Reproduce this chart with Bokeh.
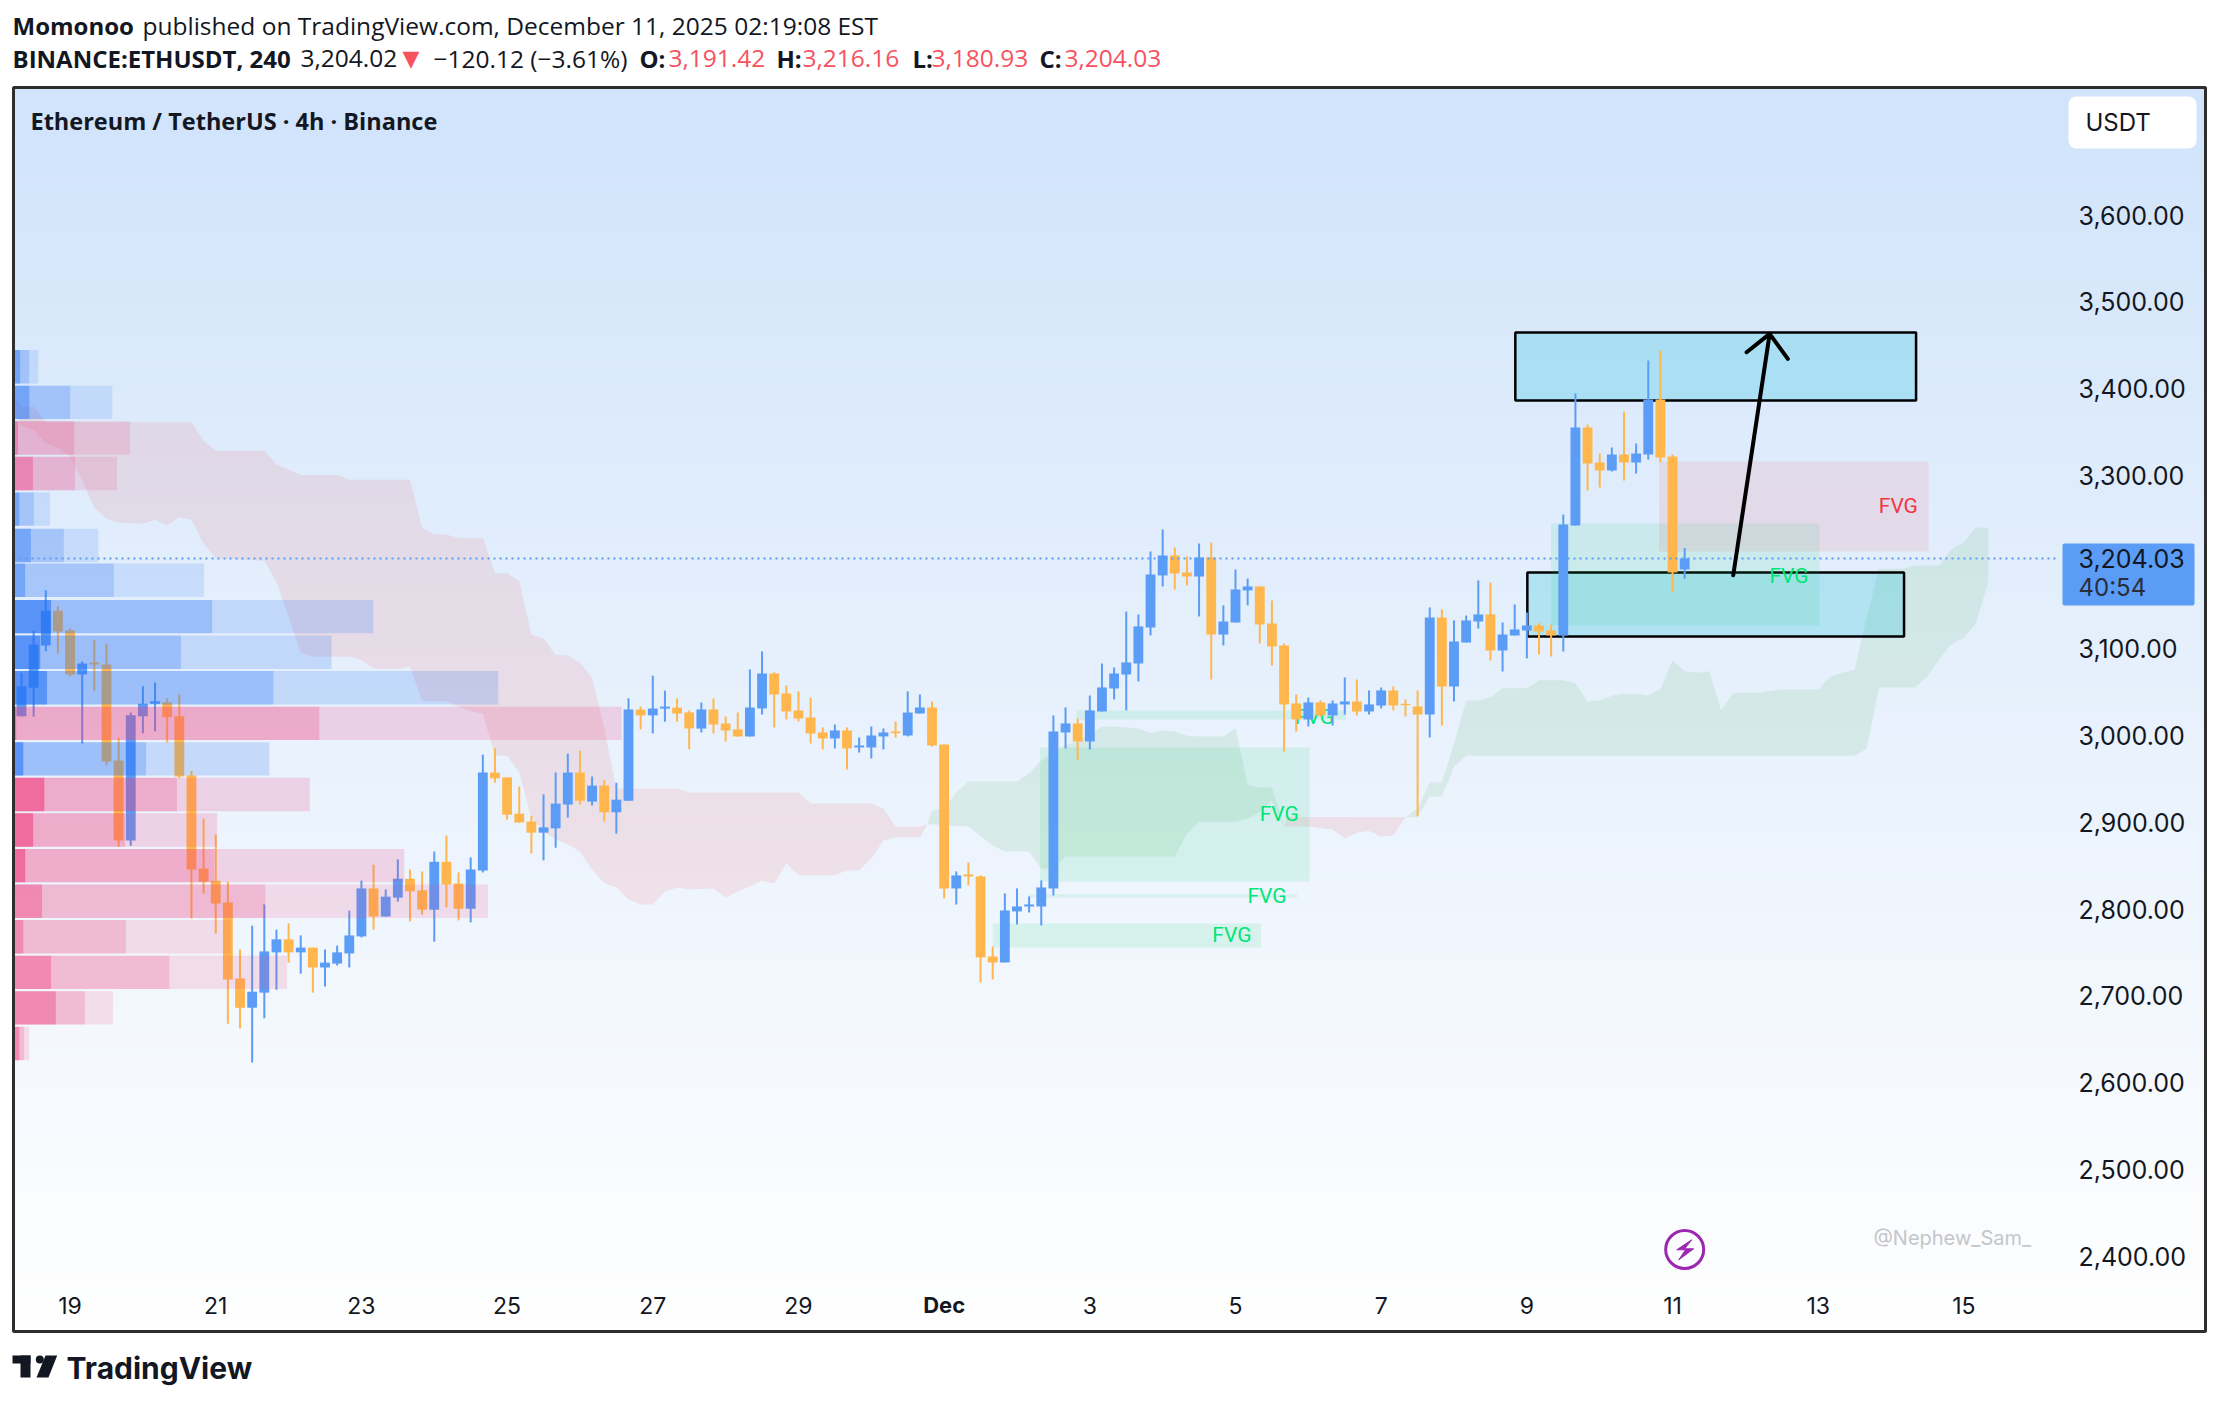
#ETHUSDT 4h chart, redrawn from a TradingView snapshot
from bokeh.plotting import figure
from bokeh.core.properties import value
from bokeh.models import LinearAxis, FixedTicker, NumeralTickFormatter, Label, ColumnDataSource
from bokeh.embed import file_html
from bokeh.resources import INLINE
import numpy as np

#4h candles, one per bar
opens = [3022.1,3055.1,3103.7,3143.9,3121.0,3070.2,3084.1,3081.9,2971.2,2879.0,
3022.1,3036.6,3038.3,3022.1,2953.9,2846.6,2832.7,2807.5,2719.8,2686.3,
2703.6,2750.0,2765.0,2750.0,2755.5,2732.6,2737.1,2748.8,2768.4,2823.7,
2791.3,2813.1,2834.9,2821.5,2799.2,2854.4,2829.3,2800.3,2844.4,2957.3,
2951.7,2909.8,2900.8,2888.0,2893.0,2920.4,2957.3,2923.8,2942.2,2911.5,
2924.9,3029.9,3023.2,3031.0,3032.1,3026.6,3008.0,3030.0,3013.9,3007.0,
2998.9,3031.2,3071.5,3048.5,3028.9,3020.8,3003.5,2996.6,3005.8,2986.2,
2986.2,2998.9,3004.6,3000.0,3025.4,3032.3,2989.7,2823.7,2839.8,2837.5,
2745.3,2738.4,2797.2,2802.9,2802.9,2823.7,3003.5,3013.9,2993.1,3027.7,
3054.2,3070.3,3083.0,3124.5,3184.5,3207.5,3187.9,3183.3,3205.2,3116.4,
3130.3,3167.2,3171.8,3129.1,3103.8,3036.9,3018.5,3038.1,3023.1,3035.8,
3039.2,3027.7,3034.6,3051.9,3036.5,3033.5,3024.2,3136.0,3056.5,3107.2,
3131.4,3139.5,3098.0,3115.3,3121.0,3126.8,3121.0,3115.3,3242.0,3355.0,
3314.7,3305.5,3323.9,3314.7,3323.9,3387.3,3321.6,3191.42]
highs = [3072.4,3121.0,3167.4,3149.0,3123.2,3085.2,3110.4,3105.9,2997.5,3026.6,
3056.7,3061.2,3042.8,3047.2,2959.0,2904.2,2885.8,2831.5,2753.3,2780.7,
2805.3,2776.2,2783.5,2769.5,2755.5,2753.3,2757.8,2798.0,2832.7,2851.1,
2822.6,2857.2,2845.5,2843.3,2866.2,2884.6,2842.2,2859.5,2977.9,2985.2,
2951.7,2941.1,2907.5,2932.1,2957.3,2979.0,2982.4,2952.8,2948.3,2945.5,
3042.8,3033.3,3069.0,3051.7,3042.8,3028.8,3038.0,3042.7,3021.9,3026.5,
3076.1,3096.9,3072.7,3057.7,3050.8,3043.8,3009.3,3012.7,3009.3,2997.7,
3010.4,3008.1,3016.2,3050.8,3047.3,3039.2,2989.7,2843.3,2853.7,2838.7,
2756.8,2818.0,2823.7,2814.5,2832.9,3023.1,3032.3,3019.6,3046.1,3083.0,
3078.4,3142.9,3139.5,3212.1,3237.5,3216.7,3206.4,3221.3,3222.5,3149.9,
3191.4,3181.0,3171.8,3155.6,3106.1,3047.3,3043.8,3040.4,3040.4,3066.9,
3064.6,3051.9,3055.4,3056.5,3041.5,3051.9,3147.6,3145.3,3132.6,3138.3,
3178.7,3176.4,3130.3,3151.0,3141.8,3129.5,3128.0,3254.7,3394.2,3358.5,
3325.0,3332.0,3373.5,3336.6,3432.2,3443.8,3323.9,3216.16]
lows = [3022.0,3021.5,3097.0,3094.7,3067.9,2990.8,3051.7,2965.6,2871.8,2872.9,
3002.5,3004.8,2991.9,2950.6,2789.1,2817.6,2771.7,2667.8,2662.2,2623.1,
2674.0,2706.9,2738.2,2725.4,2703.6,2710.8,2734.9,2732.6,2767.3,2776.2,
2791.3,2808.6,2785.7,2793.5,2762.3,2801.9,2786.8,2784.6,2842.2,2945.5,
2903.1,2899.7,2864.0,2856.1,2870.7,2905.3,2920.4,2919.3,2900.8,2886.9,
2924.9,3007.0,3002.5,3015.9,3015.9,2984.1,3003.5,3002.3,2993.1,2998.9,
2998.9,3024.2,3009.3,3018.5,3016.2,2990.8,2983.9,2985.1,2960.8,2980.4,
2973.5,2983.9,2997.7,2998.9,3025.4,2987.4,2812.2,2805.2,2827.2,2715.3,
2718.8,2738.4,2782.2,2796.0,2781.0,2815.6,2985.1,2971.2,2983.9,3027.7,
3041.5,3028.9,3062.3,3115.3,3171.8,3168.3,3172.9,3137.2,3064.6,3103.8,
3130.3,3149.9,3106.1,3080.7,2981.6,3004.6,3010.4,3021.9,3011.6,3024.2,
3023.1,3024.2,3031.2,3028.9,3021.9,2907.0,2997.7,3011.5,3039.2,3107.2,
3123.3,3086.5,3073.8,3115.3,3088.8,3093.4,3091.1,3096.8,3242.0,3282.4,
3285.9,3304.3,3293.9,3302.0,3318.1,3314.7,3164.9,3180.93]
closes = [3056.7,3104.8,3143.9,3119.9,3070.2,3083.0,3081.9,2970.1,2879.0,3023.2,
3036.6,3039.4,3021.0,2952.8,2845.5,2831.5,2806.4,2718.7,2686.3,2704.7,
2751.1,2765.0,2750.0,2755.5,2732.6,2738.2,2750.0,2769.5,2823.7,2791.3,
2814.2,2834.9,2820.4,2799.2,2854.4,2828.2,2800.3,2845.5,2957.3,2950.6,
2908.7,2899.7,2888.0,2894.1,2921.5,2957.3,2924.9,2942.2,2911.5,2926.0,
3029.9,3023.2,3031.0,3033.3,3025.4,3008.1,3030.0,3012.7,3005.8,2998.9,
3032.3,3071.5,3047.3,3027.7,3019.6,3002.3,2996.6,3005.8,2985.1,2988.5,
3000.0,3003.5,3002.7,3026.5,3032.3,2988.5,2823.7,2838.7,2837.5,2744.2,
2738.4,2798.3,2802.9,2805.2,2824.8,3004.6,3013.9,2993.1,3028.9,3055.4,
3071.5,3084.2,3125.7,3185.6,3207.5,3186.8,3183.3,3205.2,3116.4,3131.4,
3168.3,3171.8,3128.0,3102.6,3035.8,3018.5,3038.1,3023.1,3036.9,3039.2,
3027.7,3035.8,3051.9,3034.6,3035.0,3024.2,3136.0,3056.5,3108.4,3132.6,
3139.5,3098.0,3116.4,3122.2,3126.8,3119.9,3115.3,3243.2,3355.0,3313.5,
3305.5,3323.9,3314.7,3325.0,3387.3,3320.4,3187.9,3204.03]

last_price = 3204.03

#axis labels, 3,200 is hidden behind the price tag
price_ticks = [2400,2500,2600,2700,2800,2900,3000,3100,3300,3400,3500,3600]
date_labels = ["19","21","23","25","27","29","Dec","3","5","7","9","11","13","15"]

#visible range profile, price of each row and the three stacked volumes
vp_price = [3425,3384,3343,3302,3261,3219,3179,3137,3096,3055,3014,2973,2932,2891,2850,2809,2768,2727,2686,2645]
vp_top = [0.55,1.3,0.37,1.6,0.48,1.43,0.96,3.09,2.2,2.76,0.22,0.81,2.54,1.62,0.96,2.35,0.81,3.09,3.49,0.48]
vp_mid = [1.29,4.67,5.0,5.07,1.69,4.15,8.27,16.36,13.79,21.4,25.19,10.92,13.46,9.19,16.54,20.74,9.26,12.84,5.88,0.88]
vp_all = [2.03,8.13,9.6,8.53,3.01,6.99,15.7,29.63,26.2,39.93,50.1,21.07,24.41,16.77,32.18,39.08,17.87,22.54,8.2,1.29]
vp_blue = [1,1,0,0,1,1,1,1,1,1,0,1,0,0,0,0,0,0,0,0]

#cloud outlines, bar number and price
red1_up_x = [-0.66,0,1,2,14,15,16,20,21,23,26,27,32,33,34,35,36,38,39,40,41,42,43,44,45,46,47,48,49,54,55,64,65,70,71,72,74,74.6]
red1_up_y = [3392,3379.3,3379.3,3361.2,3361.2,3339.5,3328.3,3328.3,3312.7,3300.4,3300.4,3294.8,3294.8,3239.5,3231.7,3231.7,3227.7,3227.7,3186.9,3186.9,3178,3116,3112,3092.5,3092.5,3084.1,3066.2,3008.7,2938.9,2938.9,2934.3,2934.3,2921.7,2921.7,2915.9,2895.2,2895.2,2898]
red1_lo_x = [-0.66,0,1,2,3,4,5,6,7,8,10,11,12,13,14,15,16,20,21,22,23,24,27,28,29,31,32,33,35,36,37,38,39,40,41,42,43,44,45,46,47,48,49,50,51,52,53,54,55,57,58,59,60,61,62,63,64,67,68,69,70,71,72,74,74.6]
red1_lo_y = [3377,3356.2,3352.4,3337,3331.6,3321.6,3293.9,3262.5,3249.8,3245.5,3244,3248.6,3242,3251.7,3248.6,3221,3204.3,3201.5,3177.4,3137.2,3095.3,3090.8,3090.8,3086.9,3076.9,3076.9,3079.6,3039.4,3039.4,3033.3,3027.7,3025.4,2976.8,2976.8,2957.3,2905.3,2889.1,2880.2,2874.6,2866.2,2845.5,2829.9,2824.8,2811,2805.2,2805.2,2820.2,2824.8,2822.5,2823.7,2813.3,2820.2,2826,2832.9,2829.4,2852.5,2839,2839,2844.8,2844.8,2858.3,2879,2882.5,2882.5,2898]
red2_up_x = [104,104.3,114]
red2_up_y = [2895.2,2906,2905.8]
red2_lo_x = [104,106,108,109,110,111,112,113,114]
red2_lo_y = [2895.2,2895.2,2891.7,2881.3,2888.2,2889.8,2883.6,2884.8,2905.8]
green1_up_x = [74.6,75,76,77,78,82,83,84,85,86,87,88,89,90,92,93,94,95,96,97,99,100,101,102,103,104]
green1_up_y = [2898,2913.6,2915.5,2934.7,2947,2947,2956.6,2971.2,2980.8,2988.5,2994.3,3002,3010.4,3010.4,3008.1,3002.7,3005.8,3004.6,2999.8,2998.9,2998.9,3008.1,2943.6,2940.1,2940.1,2895.2]
green1_lo_x = [74.6,78,80,81,83,84,85,86,95,96,97,100,101,102,103,104]
green1_lo_y = [2898,2895.2,2873.2,2866.3,2866.3,2846.7,2846.7,2860.6,2860.6,2886.7,2900.5,2900.5,2904,2911.7,2925,2895.2]
green2_up_x = [114,115,116,117,118,119,120,121,122,124,125,127,128,129,130,131,132,133,134,135,136,137,138,139,139.7,140,141,143,145,148,149,151,152,153,155,156,158,159,160,161,162]
green2_up_y = [2905.8,2915.5,2945.8,2945.8,2990.4,3040.4,3040.4,3044.2,3054.6,3054.6,3063.8,3063.8,3060.4,3039.2,3040.4,3045.7,3048,3048,3045.7,3053.8,3086.5,3074.2,3072.3,3074.2,3044.2,3028.8,3049.2,3049.2,3053,3053,3068,3076.1,3136.4,3192.1,3192.1,3196,3196,3215.2,3222.9,3239.8,3239.8]
green2_lo_x = [114,115,116,117,118,119,151,152,153,156,157,158,159,160,161,162]
green2_lo_y = [2905.8,2905.8,2929.7,2929.7,2964.3,2976.6,2976.6,2984.6,3055.3,3055.3,3068.4,3088.4,3105.7,3112.6,3129.9,3176.7]

#fair value gaps: left bar, right bar, top, bottom
fvg_green_l = [86.9,83.9,83,80,126]
fvg_green_r = [109.1,106.1,105.1,102.1,148.1]
fvg_green_t = [3028.9,2986.2,2816.8,2783.3,3244.4]
fvg_green_b = [3018.5,2831.8,2813.3,2755.7,3126.8]
fvg_green_tx = [106.5,103.6,102.6,99.7,145.6]
fvg_green_ty = [3021.9,2909,2814.5,2769.5,3184]
fvg_red_l, fvg_red_r, fvg_red_t, fvg_red_b = [134.9],[157.1],[3315.8],[3212.1]
fvg_red_tx, fvg_red_ty = [154.6],[3264]

#the two drawn zones and the arrow
zone_l = [123.05,124.04]
zone_r = [156.06,155.07]
zone_t = [3464.5,3187.9]
zone_b = [3386.1,3114.1]
arrow_x = [141,144]
arrow_y = [3184.8,3463]
head_x = [142.1,144,145.5]
head_y = [3441.8,3463,3434.2]

BLUE = "#5B9CF6"
ORANGE = "#FFB74D"
INK = "#131722"
RED = "#F7525F"
AXIS_FONT = "Inter"

#page pixels of the snapshot, used for the frame and everything that is not price data
W, H = 2210, 1396
FRAME_L, FRAME_R, FRAME_T, FRAME_B = 13, 2205, 87, 1331
X0, PX_BAR = 21.0, 12.14
Y3400, PX_USD = 388.0, 0.8675

def bar_at(px):
    return (px - X0) / PX_BAR

def usd_at(py):
    return 3400 + (Y3400 - py) / PX_USD

x_min, x_max = bar_at(FRAME_L), bar_at(FRAME_R)
y_min, y_max = usd_at(FRAME_B), usd_at(FRAME_T)

p = figure(width=W, height=H, output_backend="svg", toolbar_location=None,
           x_axis_type=None, y_axis_type=None,
           x_range=(bar_at(0), bar_at(W)), y_range=(usd_at(H), usd_at(0)),
           min_border_left=0, min_border_right=0, min_border_top=0, min_border_bottom=0)
p.grid.visible = False
p.outline_line_color = None
p.border_fill_color = "white"
p.background_fill_color = "white"

#background gradient, every band reaches down to the bottom so no seams show
n_bands = 160
band_tops = np.linspace(y_max, y_min, n_bands, endpoint=False)
band_f = np.linspace(0, 1, n_bands)
band_cols = ["#%02x%02x%02x" % (int(209 + 46*f), int(228 + 27*f), int(251 + 4*f)) for f in band_f]
p.quad(left=x_min, right=x_max, top=band_tops, bottom=y_min, fill_color=band_cols, line_color=None)

#clouds
def cloud(up_x, up_y, lo_x, lo_y, col):
    p.patch(up_x + lo_x[::-1], up_y + lo_y[::-1], fill_color=col, fill_alpha=0.12, line_color=None)

cloud(red1_up_x, red1_up_y, red1_lo_x, red1_lo_y, "#EF5350")
cloud(red2_up_x, red2_up_y, red2_lo_x, red2_lo_y, "#EF5350")
cloud(green1_up_x, green1_up_y, green1_lo_x, green1_lo_y, "#4CAF50")
cloud(green2_up_x, green2_up_y, green2_lo_x, green2_lo_y, "#4CAF50")

#blue zones
p.quad(left=zone_l, right=zone_r, top=zone_t, bottom=zone_b, fill_color="#00BCD4", fill_alpha=0.22,
       line_color="black", line_width=2.5)

#FVG boxes
p.quad(left=fvg_green_l, right=fvg_green_r, top=fvg_green_t, bottom=fvg_green_b,
       fill_color="#00D060", fill_alpha=0.1, line_color=None)
p.quad(left=fvg_red_l, right=fvg_red_r, top=fvg_red_t, bottom=fvg_red_b,
       fill_color="#F23645", fill_alpha=0.1, line_color=None)
p.text(fvg_green_tx, fvg_green_ty, text=["FVG"]*5, text_color="#00E676", text_font=value("Roboto"), text_font_size="21px",
       text_align="center", text_baseline="middle")
p.text(fvg_red_tx, fvg_red_ty, text=["FVG"], text_color="#F23645", text_font=value("Roboto"), text_font_size="21px",
       text_align="center", text_baseline="middle")

#candles
bars = list(range(len(closes)))
cols = [BLUE if c >= o else ORANGE for o, c in zip(opens, closes)]
src = ColumnDataSource(dict(x=bars, o=opens, h=highs, l=lows, c=closes, col=cols,
                            top=[max(a, b) for a, b in zip(opens, closes)],
                            bot=[min(a, b) for a, b in zip(opens, closes)]))
p.segment("x", "h", "x", "l", source=src, line_color="col", line_width=2)
p.vbar("x", 0.81, "top", "bot", source=src, fill_color="col", line_color=None)

#volume profile goes over the candles, the snapshot shows them through it
strong = [7,8,9,10,11,12,13,14]
for i, price in enumerate(vp_price):
    col = "#216EF5" if vp_blue[i] else "#F23679"
    a = (0.18, 0.24, 0.54) if i in strong else (0.14, 0.20, 0.36)
    for w, al in zip((vp_all[i], vp_mid[i], vp_top[i]), a):
        p.hbar(y=[price], height=38.5, left=x_min, right=[x_min + w], fill_color=col, fill_alpha=al, line_color=None)

#last price line and its tag
p.line([x_min, bar_at(2057)], [last_price, last_price], line_color=BLUE, line_width=2, line_dash=[2, 4])
p.quad(left=[bar_at(2062)], right=[bar_at(2194)], top=[usd_at(543)], bottom=[usd_at(605)], fill_color=BLUE,
       line_color=None, border_radius=2)
p.text([bar_at(2078)], [last_price], text=["3,204.03"], text_font=value(AXIS_FONT), text_font_size="25px", text_color=INK,
       text_baseline="middle")
p.text([bar_at(2078)], [usd_at(587)], text=["40:54"], text_font=value(AXIS_FONT), text_font_size="24px", text_color="#2A2E39",
       text_baseline="middle")

#arrow
p.line(arrow_x, arrow_y, line_color="black", line_width=4, line_cap="round")
p.line(head_x, head_y, line_color="black", line_width=4, line_cap="round", line_join="round")

#currency button
p.quad(left=[bar_at(2068)], right=[bar_at(2196)], top=[usd_at(96)], bottom=[usd_at(148)], fill_color="white",
       line_color=None, border_radius=8)
p.text([bar_at(2085)], [usd_at(122)], text=["USDT"], text_font=value(AXIS_FONT), text_font_size="24px", text_color=INK,
       text_baseline="middle")

#flash icon by the last bar
icon_x, icon_y = 137, usd_at(1249)
p.scatter([icon_x], [icon_y], size=38, marker="circle", fill_color=None, line_color="#9C27B0", line_width=3)
bolt_px = [7, -7.9, 0.8, -5.9, 9, 0]
bolt_py = [-9.7, 0.3, 0.3, 10.3, -0.7, -0.7]
p.patch([icon_x + a/PX_BAR for a in bolt_px], [icon_y - b/PX_USD for b in bolt_py], fill_color="#9C27B0", line_color="#9C27B0")

p.text([bar_at(1873)], [usd_at(1237)], text=["@Nephew_Sam_"], text_font=value(AXIS_FONT), text_font_size="20px", text_color="#C4C6CB",
       text_baseline="middle")

#axes sit inside the frame
yax = LinearAxis(fixed_location=bar_at(2072), ticker=FixedTicker(ticks=price_ticks),
                 formatter=NumeralTickFormatter(format="0,0.00"))
yax.axis_line_color = None
yax.major_tick_line_color = None
yax.minor_tick_line_color = None
yax.major_label_standoff = 0
yax.major_label_text_font = AXIS_FONT
yax.major_label_text_font_size = "25px"
yax.major_label_text_color = INK
yax.major_label_text_align = "left"
yax.major_label_text_baseline = "middle"
p.add_layout(yax, "right")

date_bars = [4 + 12*i for i in range(len(date_labels))]
xax = LinearAxis(fixed_location=usd_at(1290), ticker=FixedTicker(ticks=date_bars),
                 major_label_overrides={b: ("" if s == "Dec" else s) for b, s in zip(date_bars, date_labels)})
xax.axis_line_color = None
xax.major_tick_line_color = None
xax.minor_tick_line_color = None
xax.major_label_standoff = 0
xax.major_label_text_font = AXIS_FONT
xax.major_label_text_font_size = "23px"
xax.major_label_text_color = INK
p.add_layout(xax, "below")
p.text([date_bars[date_labels.index("Dec")]], [usd_at(1304)], text=["Dec"], text_font=value(AXIS_FONT), text_font_style="bold",
       text_font_size="22px", text_color=INK, text_align="center", text_baseline="middle")

#frame line on top of everything
p.quad(left=[x_min], right=[x_max], top=[y_max], bottom=[y_min], fill_color=None, line_color="#2E2E2E", line_width=3)

#TradingView mark under the frame
p.quad(left=[bar_at(12), bar_at(20)], right=[bar_at(30), bar_at(30)], top=[usd_at(1355), usd_at(1355)],
       bottom=[usd_at(1363), usd_at(1377)], fill_color=INK, line_color=None)
p.scatter([bar_at(39.3)], [usd_at(1359)], size=8, marker="circle", fill_color=INK, line_color=None)
p.patch([bar_at(a) for a in (45, 56.7, 48, 36)], [usd_at(b) for b in (1355, 1355, 1377, 1377)], fill_color=INK, line_color=None)

#texts around the frame, placed by page pixel
def txt(px, py, s, color=INK, bold=False, size=24.5, font="Open Sans"):
    p.add_layout(Label(x=px, y=H - py, x_units="screen", y_units="screen", text=s,
                       text_color=color, text_font=font, text_font_size="%gpx" % size,
                       text_font_style="bold" if bold else "normal", text_baseline="middle"))

txt(12, 25, "Momonoo", bold=True, size=24)
txt(142, 25, "published on TradingView.com, December 11, 2025 02:19:08 EST")
txt(12, 58, "BINANCE:ETHUSDT, 240", bold=True, size=24)
txt(300, 58, "3,204.02")
txt(402, 58, "▼", color=RED, size=22, font="DejaVu Sans")
txt(433, 58, "−120.12 (−3.61%)")
txt(639, 58, "O:", bold=True, size=24)
txt(668, 58, "3,191.42", color=RED)
txt(776, 58, "H:", bold=True, size=24)
txt(802, 58, "3,216.16", color=RED)
txt(912, 58, "L:", bold=True, size=24)
txt(931, 58, "3,180.93", color=RED)
txt(1039, 58, "C:", bold=True, size=24)
txt(1064, 58, "3,204.03", color=RED)
txt(30, 120, "Ethereum / TetherUS · 4h · Binance", bold=True, size=23.5)
txt(66, 1367, "TradingView", bold=True, size=30, font="Inter")

open("out.html", "w").write(file_html(p, INLINE))
